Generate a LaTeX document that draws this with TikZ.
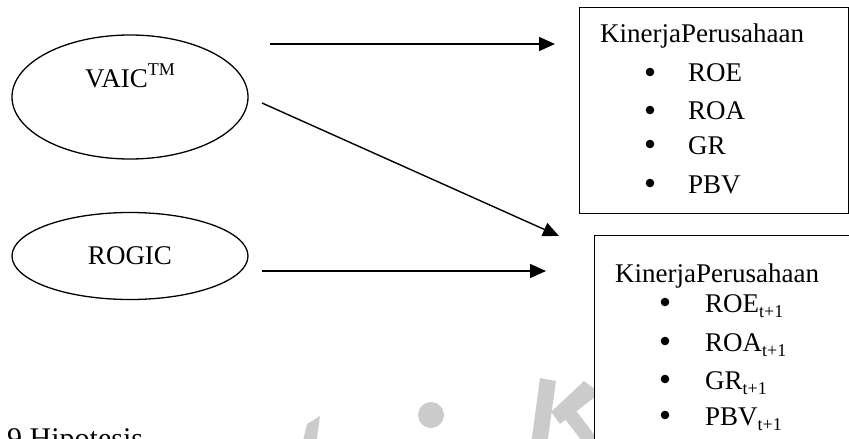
\documentclass[tikz,border=0pt]{standalone}
\usepackage{fontspec}
\setmainfont{Liberation Serif}
\usetikzlibrary{shapes.geometric,arrows.meta}
\definecolor{wmgray}{HTML}{CBCBCB}
\newcommand{\bigtxt}{\fontsize{27}{32}\selectfont}
\newcommand{\subtxt}[1]{\raisebox{-0.2em}{\fontsize{18}{18}\selectfont #1}}
\newcommand{\suptxt}[1]{\raisebox{0.42em}{\fontsize{18}{18}\selectfont #1}}
\begin{document}
\begin{tikzpicture}[x=1pt,y=-1pt,
  oval/.style={ellipse,draw,line width=1.3pt,inner sep=0pt},
  panel/.style={draw,line width=1.3pt,fill=white},
  txt/.style={anchor=base west,inner sep=0pt,font=\bigtxt},
  dot/.style={circle,fill=black,inner sep=0pt,minimum size=8.6pt},
  link/.style={line width=1.4pt,-{Triangle[length=16pt,width=14pt]}}]
\useasboundingbox (0,0) rectangle (849,439);
\clip (0,0) rectangle (849,439);

% watermark fragments
\fill[wmgray] (307,424) -- (320,416) -- (316,445) -- (302,445) -- cycle;
\fill[wmgray] (431,415) circle (13);
\fill[wmgray] (540,378) -- (556,381) -- (547,445) -- (531,445) -- cycle;
\fill[wmgray] (584,381) -- (600,393) -- (560,424) -- (551,412) -- cycle;
\fill[wmgray] (558,410) -- (571,404) -- (602,445) -- (585,445) -- cycle;

% ellipses
\node[oval,minimum width=236,minimum height=124] (vaic) at (130,97) {};
\node[txt,anchor=base] (vaict) at (130,87) {VAIC\suptxt{TM}};
\node[oval,minimum width=236,minimum height=87] (rogic) at (130,256) {};
\node[txt,anchor=base] (rogict) at (130,264) {ROGIC};

% first panel
\node[panel,anchor=north west,minimum width=269,minimum height=206] (box1) at (579,7) {};
\node[txt] (k1) at (600,42) {KinerjaPerusahaan};
\node[dot] (b11) at (650,72) {};
\node[dot] (b12) at (650,110) {};
\node[dot] (b13) at (650,144) {};
\node[dot] (b14) at (650,183) {};
\node[txt] (roe1) at (688,81) {ROE};
\node[txt] (roa1) at (688,119) {ROA};
\node[txt] (gr1) at (688,154) {GR};
\node[txt] (pbv1) at (688,193) {PBV};

% second panel
\node[panel,anchor=north west,minimum width=280,minimum height=240] (box2) at (594,235) {};
\node[txt] (k2) at (615,282) {KinerjaPerusahaan};
\node[dot] (b21) at (665,302) {};
\node[dot] (b22) at (665,341) {};
\node[dot] (b23) at (665,379) {};
\node[dot] (b24) at (665,415) {};
\node[txt] (roe2) at (705,312) {ROE\subtxt{t+1}};
\node[txt] (roa2) at (705,351) {ROA\subtxt{t+1}};
\node[txt] (gr2) at (705,389) {GR\subtxt{t+1}};
\node[txt] (pbv2) at (705,425) {PBV\subtxt{t+1}};

% heading
\node[txt,font=\fontsize{30}{34}\selectfont] (head) at (7,448) {9 Hipotesis};

% connectors
\coordinate (a1s) at (270,44);
\coordinate (a1e) at (555,44);
\coordinate (a2s) at (262,103);
\coordinate (a2e) at (559,236);
\coordinate (a3s) at (262,271);
\coordinate (a3e) at (546,271);
\draw[link] (a1s) -- (a1e);
\draw[link] (a2s) -- (a2e);
\draw[link] (a3s) -- (a3e);
\end{tikzpicture}
\end{document}
